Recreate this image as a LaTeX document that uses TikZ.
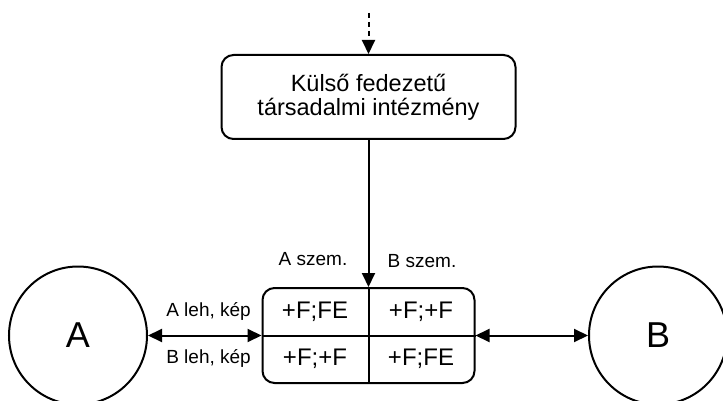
\documentclass[tikz,border=0pt]{standalone}
\usepackage{fontspec}
\setmainfont{Liberation Sans}
\usetikzlibrary{arrows.meta}
\tikzset{
  line/.style={line width=2pt, draw=black},
  tip/.style={-{Triangle[length=14pt,width=13pt]}},
  dtip/.style={{Triangle[length=14pt,width=13pt]}-{Triangle[length=14pt,width=13pt]}},
  boxnode/.style={line, rounded corners=12pt, align=center},
  cell/.style={font=\fontsize{24}{27}\selectfont, inner sep=0pt},
  lbl/.style={font=\fontsize{19}{21}\selectfont, inner sep=0pt},
  circ/.style={line, circle, minimum size=138pt, inner sep=0pt, font=\fontsize{36}{40}\selectfont}
}
\begin{document}
\begin{tikzpicture}[x=1pt,y=-1pt]
\useasboundingbox (0,0) rectangle (723,401);
\node[boxnode, minimum width=294pt, minimum height=84pt, font=\fontsize{23.5}{24}\selectfont] (box) at (368.5,97) {Külső fedezetű\\társadalmi intézmény};
\coordinate (top) at (368.5,13);
\node[line, rounded corners=12pt, minimum width=212pt, minimum height=95pt] (tbl) at (368.5,335.5) {};
\draw[line] (tbl.north) -- (tbl.south);
\draw[line] (tbl.west) -- (tbl.east);
\node[cell] (c11) at (315,312) {+F;FE};
\node[cell] (c12) at (421,312) {+F;+F};
\node[cell] (c21) at (315,359) {+F;+F};
\node[cell] (c22) at (421,359) {+F;FE};
\node[circ] (A) at (78,335.5) {A};
\node[circ] (B) at (658,335.5) {B};
\draw[line, dashed, dash pattern=on 5pt off 4pt, tip] (top) -- (box.north);
\draw[line, tip] (box.south) -- (tbl.north);
\draw[line, dtip] (A.east) -- (tbl.west);
\draw[line, dtip] (tbl.east) -- (B.west);
\node[lbl, anchor=east] (la) at (251,311) {A leh, kép};
\node[lbl, anchor=east] (lb) at (251,358) {B leh, kép};
\node[lbl] (sa) at (313,259) {A szem.};
\node[lbl] (sb) at (422,261) {B szem.};
\end{tikzpicture}
\end{document}
